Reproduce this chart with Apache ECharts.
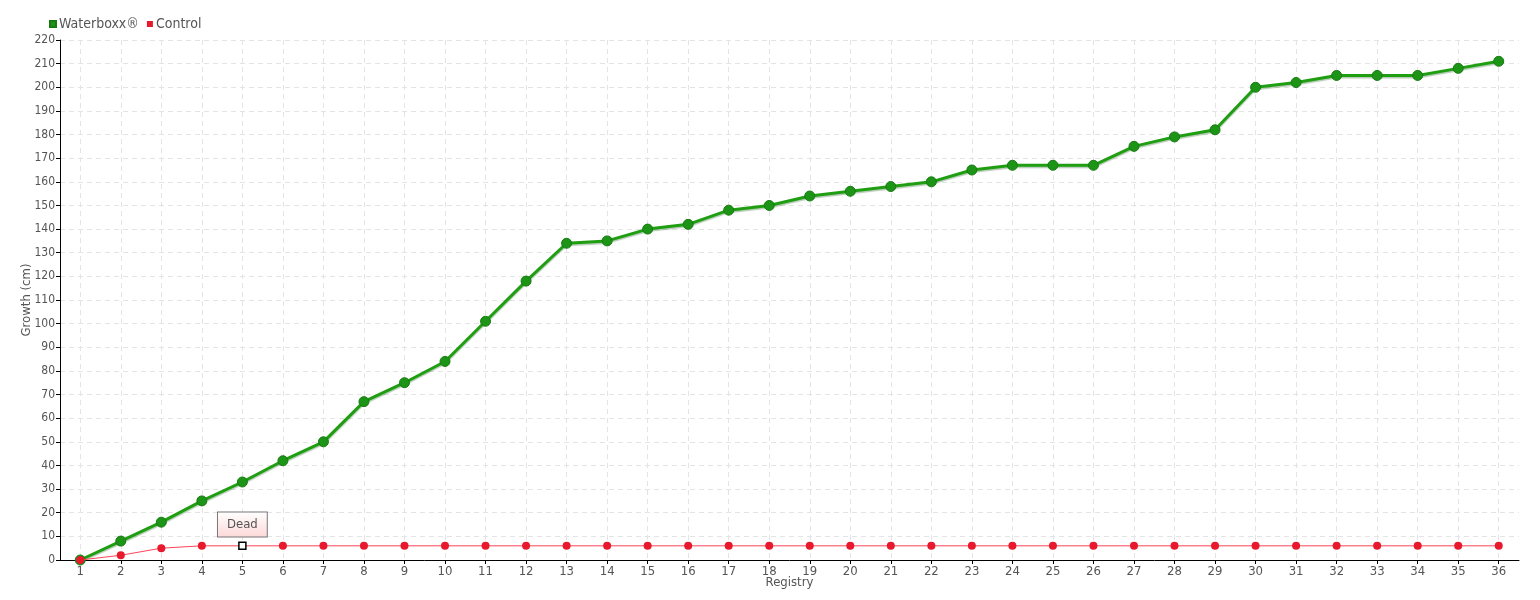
<!DOCTYPE html>
<html><head><meta charset="utf-8">
<script src="https://cdn.jsdelivr.net/npm/echarts@6/dist/echarts.min.js"></script>
<style>html,body{margin:0;padding:0;background:#fff}#c{width:1540px;height:600px}</style>
</head><body><div id="c"></div>
<script>
const categories = ['1','2','3','4','5','6','7','8','9','10','11','12','13','14','15','16','17','18','19','20','21','22','23','24','25','26','27','28','29','30','31','32','33','34','35','36'];
const waterboxx = [0,8,16,25,33,42,50,67,75,84,101,118,134,135,140,142,148,150,154,156,158,160,165,167,167,167,175,179,182,200,202,205,205,205,208,211];
const control = [0,2,5,6,6,6,6,6,6,6,6,6,6,6,6,6,6,6,6,6,6,6,6,6,6,6,6,6,6,6,6,6,6,6,6,6];
const deadIndex = 4;
const deadLabel = 'Dead';
const FONT = "'DejaVu Sans Condensed', 'Liberation Sans Narrow', 'Noto Sans', sans-serif";

const controlData = control.map((v, i) => i === deadIndex ? {
  value: v,
  symbol: 'rect', symbolSize: 7,
  itemStyle: {color: '#fff', borderColor: '#000', borderWidth: 1.5},
  label: {
    show: true, position: 'top', distance: 5, formatter: deadLabel,
    fontFamily: FONT, fontSize: 13, color: '#555',
    backgroundColor: {type: 'linear', x: 0, y: 0, x2: 0, y2: 1, colorStops: [{offset: 0, color: '#fff'}, {offset: 1, color: '#fdd8d8'}]},
    borderColor: '#777', borderWidth: 1, padding: [6, 9, 5, 9]
  }
} : v);

const chart = echarts.init(document.getElementById('c'), null, {renderer: 'canvas'});
chart.setOption({
  animation: false,
  textStyle: {fontFamily: FONT},
  legend: {
    left: 44, top: 12, itemWidth: 6, itemHeight: 6, itemGap: 8,
    icon: 'rect',
    textStyle: {fontFamily: FONT, fontSize: 14, color: '#555', padding: [0, 0, 0, -2]},
    data: ['Waterboxx®', 'Control']
  },
  grid: {left: 60, right: 21, top: 40, bottom: 40, containLabel: false},
  xAxis: {
    type: 'category', data: categories, boundaryGap: true,
    name: 'Registry', nameLocation: 'middle', nameGap: 16, nameMoveOverlap: false,
    nameTextStyle: {fontFamily: FONT, fontSize: 13, color: '#555'},
    axisLine: {lineStyle: {color: '#000', width: 1}},
    axisTick: {show: true, alignWithLabel: true, length: 4, lineStyle: {color: '#000'}},
    axisLabel: {fontFamily: FONT, fontSize: 13, color: '#555', margin: 5},
    splitLine: {show: true, alignWithLabel: true, lineStyle: {color: '#e4e4e4', type: [5, 4]}}
  },
  yAxis: {
    type: 'value', min: 0, max: 220, interval: 10,
    name: 'Growth (cm)', nameLocation: 'middle', nameGap: 27, nameMoveOverlap: false,
    nameTextStyle: {fontFamily: FONT, fontSize: 13, color: '#555'},
    axisLine: {show: true, lineStyle: {color: '#000', width: 1}},
    axisTick: {show: true, length: 4, lineStyle: {color: '#000'}},
    axisLabel: {fontFamily: FONT, fontSize: 12, color: '#555', margin: 5},
    splitLine: {show: true, lineStyle: {color: '#e4e4e4', type: [5, 4]}}
  },
  series: [
    {
      name: 'Waterboxx®', type: 'line', data: waterboxx, z: 3,
      symbol: 'circle', symbolSize: 10,
      lineStyle: {color: '#1f9e12', width: 3, shadowColor: 'rgba(0,80,0,0.3)', shadowBlur: 1, shadowOffsetY: 1.5},
      itemStyle: {color: '#1c9416', borderColor: '#177a12', borderWidth: 1},
      color: '#1c9e14'
    },
    {
      name: 'Control', type: 'line', data: controlData, z: 4,
      symbol: 'circle', symbolSize: 8,
      lineStyle: {color: '#ff4458', width: 1},
      itemStyle: {color: '#e8192c'},
      color: '#f0152a'
    }
  ]
});
</script></body></html>
